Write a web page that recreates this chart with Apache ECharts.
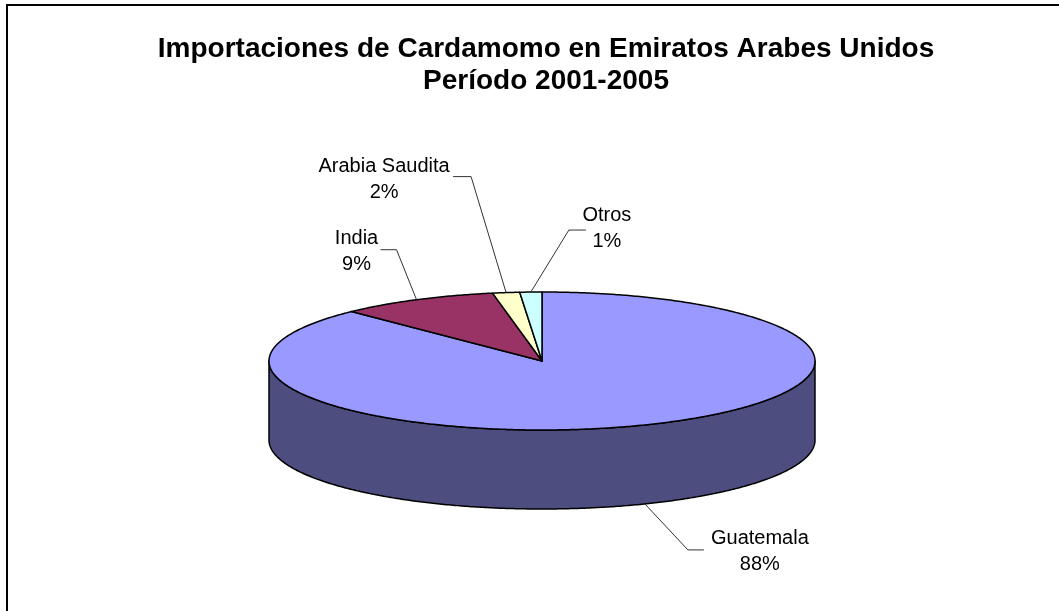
<!DOCTYPE html>
<html>
<head>
<meta charset="utf-8">
<script src="https://cdn.jsdelivr.net/npm/echarts@6/dist/echarts.min.js"></script>
<style>html,body{margin:0;padding:0;background:#fff;}#chart{width:1059px;height:611px;}</style>
</head>
<body>
<div id="chart"></div>
<script>
// ---- data ----
const categories = ['Guatemala', 'India', 'Arabia Saudita', 'Otros'];
const shares = [87.7, 9.4, 1.6, 1.3];
const titleLines = ['Importaciones de Cardamomo en Emiratos Arabes Unidos', 'Período 2001-2005'];

// ---- style / layout ----
const topColors = ['#9999FF', '#993366', '#FFFFCC', '#CCFFFF'];
const sideColors = ['#4D4D80', '#4D1A33', '#808066', '#668080'];
// leader layout: elbow offset from anchor, horizontal run, text offset from line end
const leaderLayout = [
  { elbow: [43, 46], run: 16, text: [56, 2] },
  { elbow: [-20, -50], run: -16, text: [-24, 2] },
  { elbow: [-35, -116], run: -18, text: [-69, 3] },
  { elbow: [38, -62], run: 17, text: [21, -2] }
];
const PIE = { cx: 542, cy: 361, rx: 273, ry: 69, depth: 79 };

const total = shares.reduce((a, b) => a + b, 0);
const starts = [];
shares.reduce((acc, v, i) => { starts[i] = acc; return acc + v; }, 0);

function pt(deg, dy) {
  const r = deg * Math.PI / 180;
  return [PIE.cx + PIE.rx * Math.sin(r), PIE.cy - PIE.ry * Math.cos(r) + (dy || 0)];
}
function arc(a, b, dy) {
  const pts = [];
  const n = Math.max(2, Math.ceil(Math.abs(b - a) / 0.5));
  for (let k = 0; k <= n; k++) pts.push(pt(a + (b - a) * k / n, dy));
  return pts;
}

function renderItem(params, api) {
  const i = params.dataIndex;
  const v = api.value(0);
  const a1 = starts[i] / total * 360;
  const a2 = a1 + v / total * 360;
  const children = [];
  // visible outer wall (front half: 90..270 deg)
  const w1 = Math.max(a1, 90), w2 = Math.min(a2, 270);
  if (w2 > w1) {
    const pts = arc(w1, w2, 0).concat(arc(w2, w1, PIE.depth));
    children.push({ type: 'polygon', shape: { points: pts },
      style: { fill: sideColors[i], stroke: '#000', lineWidth: 1.5, lineJoin: 'round' } });
  }
  // top face
  const topPts = [[PIE.cx, PIE.cy]].concat(arc(a1, a2, 0));
  children.push({ type: 'polygon', shape: { points: topPts },
    style: { fill: topColors[i], stroke: '#000', lineWidth: 1.5, lineJoin: 'round' } });
  // leader + label
  const mid = (a1 + a2) / 2;
  const front = mid > 90 && mid < 270;
  const anchor = pt(mid, front ? PIE.depth : 0);
  const L = leaderLayout[i];
  const elbow = [anchor[0] + L.elbow[0], anchor[1] + L.elbow[1]];
  const end = [elbow[0] + L.run, elbow[1]];
  children.push({ type: 'polyline', shape: { points: [anchor, elbow, end] },
    style: { stroke: '#333', lineWidth: 1, fill: null } });
  const pct = Math.round(v / total * 100) + '%';
  children.push({ type: 'text', style: {
    text: api.value(1) + '\n' + pct,
    x: end[0] + L.text[0], y: end[1] + L.text[1],
    align: 'center', verticalAlign: 'middle',
    fontSize: 20, fontFamily: '"Liberation Sans", Arial, sans-serif',
    lineHeight: 26, fill: '#000' } });
  return { type: 'group', children };
}

const chart = echarts.init(document.getElementById('chart'));
chart.setOption({
  animation: false,
  backgroundColor: '#fff',
  title: {
    text: titleLines.join('\n'),
    left: 541, top: 28, textAlign: 'center',
    textStyle: { fontSize: 28, fontWeight: 'bold', fontFamily: '"Liberation Sans", Arial, sans-serif',
      color: '#000', lineHeight: 32 }
  },
  graphic: [{ type: 'rect', shape: { x: 7, y: 5, width: 1200, height: 800 },
    style: { fill: null, stroke: '#000', lineWidth: 2 }, silent: true }],
  series: [{
    type: 'custom',
    coordinateSystem: 'none',
    renderItem,
    dimensions: ['value', 'name'],
    data: shares.map((v, i) => [v, categories[i]])
  }]
});
</script>
</body>
</html>
